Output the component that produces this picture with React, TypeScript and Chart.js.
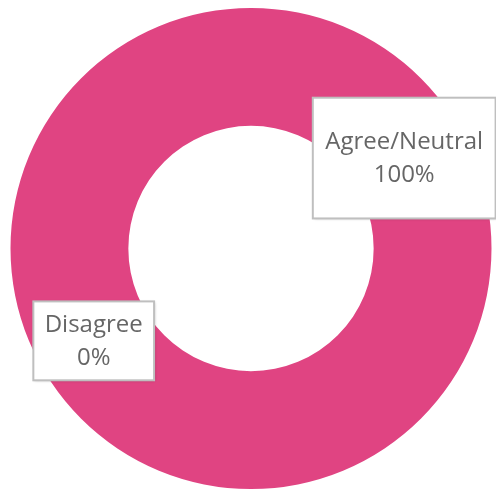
import React, { useEffect, useRef } from "react";
import { Chart, registerables } from "chart.js";

Chart.register(...registerables);

const categories = ["Agree/Neutral", "Disagree"];
const values = [100, 0];

const labelBoxes = [
  { fx: 0.257, fy: -0.627, fw: 0.76, fh: 0.502 },
  { fx: -0.905, fy: 0.22, fw: 0.502, fh: 0.328 },
];

const labelPlugin = {
  id: "boxLabels",
  afterDraw(chart: any) {
    const meta = chart.getDatasetMeta(0);
    const arc = meta.data[0];
    if (!arc) return;
    const { x, y, outerRadius: R } = arc.getProps(["x", "y", "outerRadius"], true);
    const ctx = chart.ctx;
    const total = values.reduce((a, b) => a + b, 0);
    categories.forEach((cat, i) => {
      const b = labelBoxes[i];
      const bx = x + b.fx * R;
      const by = y + b.fy * R;
      const bw = b.fw * R;
      const bh = b.fh * R;
      ctx.save();
      ctx.shadowColor = "rgba(0,0,0,0.3)";
      ctx.shadowBlur = 3;
      ctx.shadowOffsetX = 1;
      ctx.shadowOffsetY = 1;
      ctx.fillStyle = "#ffffff";
      ctx.fillRect(bx, by, bw, bh);
      ctx.restore();
      ctx.save();
      ctx.strokeStyle = "#BFBFBF";
      ctx.lineWidth = 2;
      ctx.strokeRect(bx, by, bw, bh);
      ctx.fillStyle = "#666666";
      ctx.font = "24px 'Open Sans'";
      ctx.textAlign = "center";
      ctx.textBaseline = "middle";
      const pct = Math.round((values[i] / total) * 100) + "%";
      const cxT = bx + bw / 2;
      const cyT = by + bh / 2;
      ctx.fillText(cat, cxT, cyT - 16);
      ctx.fillText(pct, cxT, cyT + 17);
      ctx.restore();
    });
  },
};

export default function App() {
  const ref = useRef<HTMLCanvasElement>(null);
  useEffect(() => {
    if (!ref.current) return;
    const chart = new Chart(ref.current, {
      type: "doughnut",
      data: {
        labels: categories,
        datasets: [
          {
            data: values,
            backgroundColor: ["#E04482", "#E04482"],
            borderWidth: 0,
          },
        ],
      },
      options: {
        animation: false,
        responsive: true,
        maintainAspectRatio: false,
        cutout: "51%",
        layout: { padding: { left: 10, right: 4, top: 8, bottom: 0 } },
        plugins: {
          legend: { display: false },
          tooltip: { enabled: false },
        },
      },
      plugins: [labelPlugin],
    });
    return () => chart.destroy();
  }, []);
  return (
    <div style={{ position: "fixed", left: 0, top: 0, width: 496, height: 489, background: "#fff" }}>
      <canvas ref={ref} />
    </div>
  );
}
